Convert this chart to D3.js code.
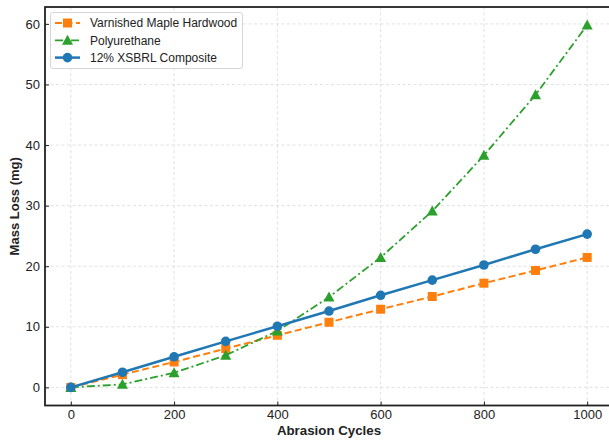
<!DOCTYPE html>
<html>
<head>
<meta charset="utf-8">
<script src="https://cdn.jsdelivr.net/npm/d3@7/dist/d3.min.js"></script>
<style>
  html, body { margin: 0; padding: 0; background: #fff; }
  svg { display: block; font-family: "Liberation Sans", Arial, sans-serif; }
</style>
</head>
<body>
<svg id="chart" width="609" height="440"></svg>
<script>
// Abrasion cycles (x) and mass loss in mg for each surface
const cycles = [0, 100, 200, 300, 400, 500, 600, 700, 800, 900, 1000];
const mapleLoss = [0, 2.1, 4.2, 6.4, 8.6, 10.75, 12.9, 15.0, 17.2, 19.3, 21.45];
const polyLoss = [0, 0.5, 2.4, 5.3, 9.3, 14.9, 21.45, 29.1, 38.3, 48.3, 59.8];
const compositeLoss = [0, 2.5, 5.05, 7.6, 10.1, 12.6, 15.2, 17.7, 20.2, 22.8, 25.3];

const xTicks = [0, 200, 400, 600, 800, 1000];
const yTicks = [0, 10, 20, 30, 40, 50, 60];

const seriesNames = ["Varnished Maple Hardwood", "Polyurethane", "12% XSBRL Composite"];

const series = [
  { name: seriesNames[0], values: mapleLoss, color: "#ff7f0e", dash: "7,3.5", width: 2, marker: "square" },
  { name: seriesNames[1], values: polyLoss, color: "#2ca02c", dash: "8,3,2,3", width: 1.8, marker: "triangle" },
  { name: seriesNames[2], values: compositeLoss, color: "#1f77b4", dash: null, width: 2.5, marker: "circle" }
];

const svg = d3.select("#chart");
const plot = { left: 45, top: 7, right: 613, bottom: 405.5 };

const x = d3.scaleLinear().domain([-50, 1050]).range([plot.left, plot.right]);
const y = d3.scaleLinear().domain([-2.99, 62.79]).range([plot.bottom, plot.top]);

// grid
const grid = svg.append("g");
grid.selectAll(".vg").data(xTicks).join("line")
  .attr("x1", d => x(d)).attr("x2", d => x(d))
  .attr("y1", plot.top).attr("y2", plot.bottom)
  .attr("stroke", "#d9d9d9").attr("stroke-width", 0.8).attr("stroke-dasharray", "3,2.5");
grid.selectAll(".hg").data(yTicks).join("line")
  .attr("x1", plot.left).attr("x2", plot.right)
  .attr("y1", d => y(d)).attr("y2", d => y(d))
  .attr("stroke", "#d9d9d9").attr("stroke-width", 0.8).attr("stroke-dasharray", "3,2.5");

// axes with inward ticks
const xAxis = svg.append("g").attr("transform", `translate(0,${plot.bottom})`)
  .call(d3.axisBottom(x).tickValues(xTicks).tickFormat(d3.format("d"))
    .tickSizeInner(-4).tickSizeOuter(0).tickPadding(4));
const yAxis = svg.append("g").attr("transform", `translate(${plot.left},0)`)
  .call(d3.axisLeft(y).tickValues(yTicks).tickFormat(d3.format("d"))
    .tickSizeInner(-4).tickSizeOuter(0).tickPadding(5));
[xAxis, yAxis].forEach(a => {
  a.select(".domain").remove();
  a.selectAll(".tick line").attr("stroke", "#222").attr("stroke-width", 1);
  a.selectAll(".tick text").attr("fill", "#222").style("font-size", "13px")
    .style("font-family", "'Liberation Sans', Arial, sans-serif");
});

// frame
svg.append("rect")
  .attr("x", plot.left).attr("y", plot.top)
  .attr("width", plot.right - plot.left).attr("height", plot.bottom - plot.top)
  .attr("fill", "none").attr("stroke", "#222").attr("stroke-width", 1.8);

const line = d3.line().x((d, i) => x(cycles[i])).y(d => y(d));

function drawMarker(g, kind, cx, cy, color) {
  if (kind === "square") {
    g.append("rect").attr("x", cx - 4.5).attr("y", cy - 4.5).attr("width", 9).attr("height", 9).attr("fill", color);
  } else if (kind === "triangle") {
    g.append("path").attr("d", `M${cx},${cy - 5.5}L${cx + 5.5},${cy + 4.5}L${cx - 5.5},${cy + 4.5}Z`).attr("fill", color);
  } else {
    g.append("circle").attr("cx", cx).attr("cy", cy).attr("r", 4.8).attr("fill", color);
  }
}

series.forEach(s => {
  const g = svg.append("g");
  g.append("path").datum(s.values).attr("d", line)
    .attr("fill", "none").attr("stroke", s.color).attr("stroke-width", s.width)
    .attr("stroke-dasharray", s.dash);
  s.values.forEach((v, i) => drawMarker(g, s.marker, x(cycles[i]), y(v), s.color));
});

// legend
const lg = svg.append("g");
lg.append("rect").attr("x", 50.5).attr("y", 12.5).attr("width", 192).attr("height", 56).attr("rx", 2.5)
  .attr("fill", "#fff").attr("fill-opacity", 0.85).attr("stroke", "#ccc").attr("stroke-width", 0.8);
series.forEach((s, i) => {
  const cy = 23 + i * 17.3;
  lg.append("line").attr("x1", 55).attr("x2", 80).attr("y1", cy).attr("y2", cy)
    .attr("stroke", s.color).attr("stroke-width", s.width).attr("stroke-dasharray", s.dash);
  drawMarker(lg, s.marker, 67.5, cy, s.color);
  lg.append("text").attr("x", 90).attr("y", cy).attr("dy", "0.36em")
    .style("font-size", "12px").attr("fill", "#222").text(s.name);
});

// axis titles
svg.append("text").attr("x", (plot.left + plot.right) / 2).attr("y", 434.5)
  .attr("text-anchor", "middle").style("font-size", "13.3px").style("font-weight", "bold")
  .attr("fill", "#222").text("Abrasion Cycles");
svg.append("text").attr("transform", `translate(19,${(plot.top + plot.bottom) / 2}) rotate(-90)`)
  .attr("text-anchor", "middle").style("font-size", "13px").style("font-weight", "bold")
  .attr("fill", "#222").text("Mass Loss (mg)");
</script>
</body>
</html>
